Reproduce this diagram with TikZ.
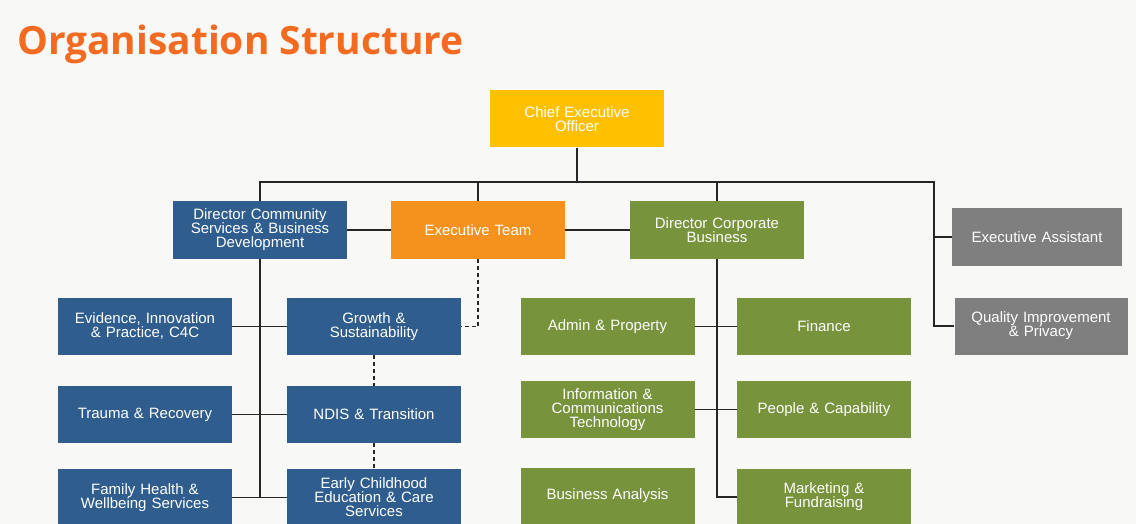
\documentclass[tikz,border=0pt]{standalone}
\usepackage{fontspec}
\setmainfont{Liberation Sans}
\newfontfamily\titlefont{Open Sans}
\usetikzlibrary{positioning}

\definecolor{ceoyellow}{HTML}{FFC000}
\definecolor{teamorange}{HTML}{F5921E}
\definecolor{csblue}{HTML}{2F5D8E}
\definecolor{cbgreen}{HTML}{77933C}
\definecolor{adgray}{HTML}{7F7F7F}
\definecolor{titleorange}{HTML}{F26B21}
\definecolor{paper}{HTML}{F8F8F6}

\tikzset{
  unit/.style={rectangle, minimum width=174pt, minimum height=57pt, text width=170pt,
    inner sep=0pt, align=center, text=white, font=\fontsize{15}{14}\selectfont},
  ceo/.style={unit, fill=ceoyellow},
  team/.style={unit, fill=teamorange},
  community/.style={unit, fill=csblue},
  corporate/.style={unit, fill=cbgreen},
  office/.style={unit, fill=adgray},
  line/.style={draw=black!85, line width=1.5pt},
  dotline/.style={line, dash pattern=on 4pt off 3pt}
}

\begin{document}
\begin{tikzpicture}[x=1pt,y=-1pt]
\useasboundingbox (0,0) rectangle (1136,524);
\clip (0,0) rectangle (1136,524);
\fill[paper] (0,0) rectangle (1136,524);

\node[anchor=base west, inner sep=0pt, text=titleorange,
  font=\titlefont\bfseries\fontsize{38.9}{42}\selectfont] (title) at (17,55) {Organisation Structure};

% top level
\node[ceo] (chief) at (577,119) {Chief Executive\\Officer};
\node[community] (dircs) at (260,230) {Director Community\\Services \& Business\\Development};
\node[team] (exteam) at (478,230) {Executive Team};
\node[corporate] (dircb) at (717,230) {Director Corporate\\Business};
\node[office, minimum width=170pt] (assist) at (1037,237) {Executive Assistant};
\node[office, minimum width=173pt] (quality) at (1041,326) {Quality Improvement\\\& Privacy};

% community services
\node[community] (evid) at (145,326.5) {Evidence, Innovation\\\& Practice, C4C};
\node[community] (growth) at (374,326.5) {Growth \&\\Sustainability};
\node[community] (trauma) at (145,414.5) {Trauma \& Recovery};
\node[community] (ndis) at (374,414.5) {NDIS \& Transition};
\node[community] (family) at (145,497.5) {Family Health \&\\Wellbeing Services};
\node[community] (early) at (374,497.5) {Early Childhood\\Education \& Care\\Services};

% corporate business
\node[corporate] (admin) at (607.5,326.5) {Admin \& Property};
\node[corporate] (finance) at (824,326.5) {Finance};
\node[corporate] (ict) at (607.5,409.5) {Information \&\\Communications\\Technology};
\node[corporate] (people) at (824,409.5) {People \& Capability};
\node[corporate] (analysis) at (607.5,496) {Business Analysis};
\node[corporate] (market) at (824,497) {Marketing \&\\Fundraising};

% reporting lines
\coordinate (bus) at (934,182);
\draw[line] (dircs.north) -- (dircs.north |- bus) -- (bus) |- (quality.west);
\draw[line] (chief.south) -- (chief.south |- bus);
\draw[line] (exteam.north) -- (exteam.north |- bus);
\draw[line] (dircb.north) -- (dircb.north |- bus);
\draw[line] (assist.west) -- (assist.west -| bus);
\draw[line] (dircs.east) -- (exteam.west);
\draw[line] (exteam.east) -- (dircb.west);

\draw[line] (dircs.south) -- (dircs.south |- family.east);
\draw[line] (evid.east) -- (growth.west);
\draw[line] (trauma.east) -- (ndis.west);
\draw[line] (family.east) -- (early.west);

\draw[line] (dircb.south) |- (market.west);
\draw[line] (admin.east) -- (finance.west);
\draw[line] (ict.east) -- (people.west);

\draw[dotline] (exteam.south) |- (growth.east);
\draw[dotline] (growth.south) -- (ndis.north);
\draw[dotline] (ndis.south) -- (early.north);
\end{tikzpicture}
\end{document}
